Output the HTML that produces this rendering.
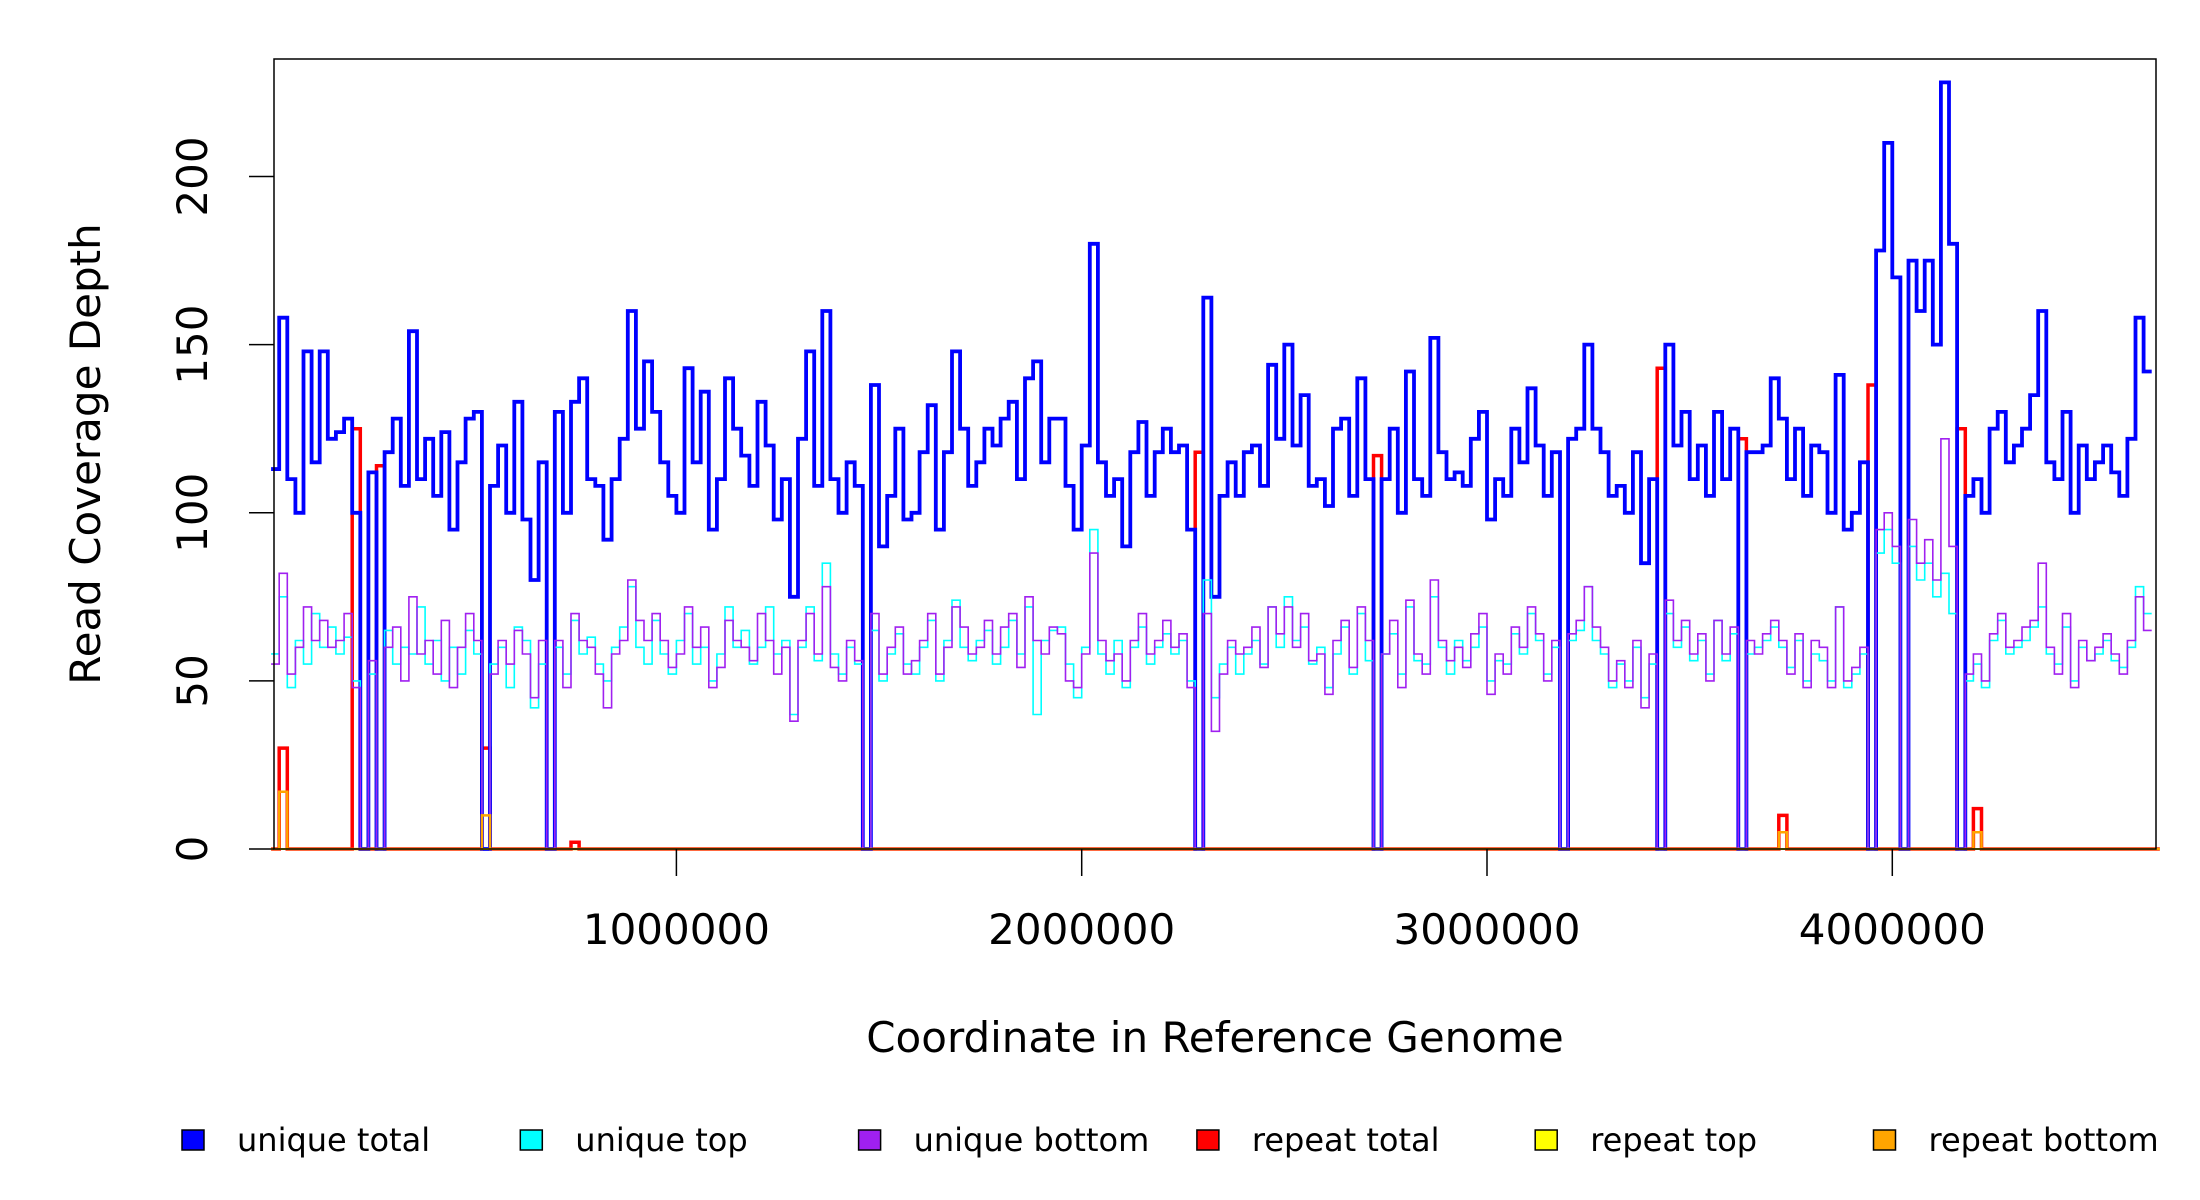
<!DOCTYPE html>
<html><head><meta charset="utf-8"><style>
body{margin:0;background:#fff;}
svg{display:block;font-family:"DejaVu Sans","Liberation Sans",sans-serif;}
</style></head><body>
<svg id="chart" width="2200" height="1200" viewBox="0 0 2200 1200">
<rect x="0" y="0" width="2200" height="1200" fill="#fff"/>
<g id="series"></g>
<g id="axes"></g>
<rect x="274" y="59" width="1882" height="790" fill="none" stroke="#000" stroke-width="1.5"/>
<text x="1215" y="1052" font-size="42" text-anchor="middle">Coordinate in Reference Genome</text>
<text transform="translate(100,454) rotate(-90)" font-size="42" text-anchor="middle">Read Coverage Depth</text>
<g id="legend"></g>
</svg>
<script>
const binSize = 20000;
const uniqueTotal = [113,158,110,100,148,115,148,122,124,128,100,0,112,0,118,128,108,154,110,122,105,124,95,115,128,130,0,108,120,100,133,98,80,115,0,130,100,133,140,110,108,92,110,122,160,125,145,130,115,105,100,143,115,136,95,110,140,125,117,108,133,120,98,110,75,122,148,108,160,110,100,115,108,0,138,90,105,125,98,100,118,132,95,118,148,125,108,115,125,120,128,133,110,140,145,115,128,128,108,95,120,180,115,105,110,90,118,127,105,118,125,118,120,95,0,164,75,105,115,105,118,120,108,144,122,150,120,135,108,110,102,125,128,105,140,110,0,110,125,100,142,110,105,152,118,110,112,108,122,130,98,110,105,125,115,137,120,105,118,0,122,125,150,125,118,105,108,100,118,85,110,0,150,120,130,110,120,105,130,110,125,0,118,118,120,140,128,110,125,105,120,118,100,141,95,100,115,0,178,210,170,0,175,160,175,150,228,180,0,105,110,100,125,130,115,120,125,135,160,115,110,130,100,120,110,115,120,112,105,122,158,142];
const uniqueTop = [58,75,48,62,55,70,60,66,58,63,50,0,52,0,65,55,60,58,72,55,62,50,60,52,65,58,0,55,60,48,66,62,42,55,0,60,52,68,58,63,55,50,60,66,78,60,55,68,58,52,62,70,55,60,50,58,72,60,65,55,60,72,58,62,40,60,72,56,85,58,52,60,55,0,65,50,58,64,55,52,60,68,50,62,74,60,56,62,65,55,60,68,58,72,40,62,65,66,55,45,60,95,58,52,62,48,60,66,55,60,64,58,62,50,0,80,45,55,60,52,58,62,55,72,60,75,62,66,55,60,48,58,66,52,70,56,0,58,64,52,72,56,55,75,60,52,62,56,60,66,50,56,55,64,58,70,62,52,60,0,62,65,78,62,58,48,55,50,60,45,55,0,70,60,66,56,62,52,68,56,64,0,58,60,62,66,60,54,62,50,58,56,50,72,48,52,58,0,88,95,85,0,90,80,85,75,82,70,0,50,55,48,62,68,58,60,62,66,72,58,55,66,50,60,56,58,62,56,54,60,78,70];
const uniqueBottom = [55,82,52,60,72,62,68,60,62,70,48,0,56,0,60,66,50,75,58,62,52,68,48,60,70,62,0,52,62,55,65,58,45,62,0,62,48,70,62,60,52,42,58,62,80,68,62,70,62,54,58,72,60,66,48,54,68,62,60,56,70,62,52,60,38,62,70,58,78,54,50,62,56,0,70,52,60,66,52,56,62,70,52,60,72,66,58,60,68,58,66,70,54,75,62,58,66,64,50,48,58,88,62,56,58,50,62,70,58,62,68,60,64,48,0,70,35,52,62,58,60,66,54,72,64,72,60,70,56,58,46,62,68,54,72,62,0,58,68,48,74,58,52,80,62,56,60,54,64,70,46,58,52,66,60,72,64,50,62,0,64,68,78,66,60,50,56,48,62,42,58,0,74,62,68,58,64,50,68,58,66,0,62,58,64,68,62,52,64,48,62,60,48,72,50,54,60,0,95,100,90,0,98,85,92,80,122,90,0,52,58,50,64,70,60,62,66,68,85,60,52,70,48,62,56,60,64,58,52,62,75,65];
const repeatTotal = [0,30,0,0,0,0,0,0,0,0,125,0,0,114,0,0,0,0,0,0,0,0,0,0,0,0,30,0,0,0,0,0,0,0,0,0,0,2,0,0,0,0,0,0,0,0,0,0,0,0,0,0,0,0,0,0,0,0,0,0,0,0,0,0,0,0,0,0,0,0,0,0,0,0,0,0,0,0,0,0,0,0,0,0,0,0,0,0,0,0,0,0,0,0,0,0,0,0,0,0,0,0,0,0,0,0,0,0,0,0,0,0,0,0,118,0,0,0,0,0,0,0,0,0,0,0,0,0,0,0,0,0,0,0,0,0,117,0,0,0,0,0,0,0,0,0,0,0,0,0,0,0,0,0,0,0,0,0,0,0,0,0,0,0,0,0,0,0,0,0,0,143,0,0,0,0,0,0,0,0,0,122,0,0,0,0,10,0,0,0,0,0,0,0,0,0,0,138,0,0,0,0,0,0,0,0,0,0,125,0,12,0,0,0,0,0,0,0,0,0,0,0,0,0,0,0,0,0,0,0,0,0,0];
const repeatTop = repeatTotal.map(() => 0);
const repeatBottom = repeatTotal.map((v, i) => (i===1?17:i===26?10:i===186?5:i===210?5:0));
const yTicks = [0,50,100,150,200];
const xTicks = [1000000,2000000,3000000,4000000];
const legendLabels = ["unique total","unique top","unique bottom","repeat total","repeat top","repeat bottom"];
const legendColors = ["#0000ff","#00ffff","#a020f0","#ff0000","#ffff00","#ffa500"];

const NS = "http://www.w3.org/2000/svg";
const X0 = 271.1, XPX = 405.3e-6, Y0 = 849, YPX = (849-176.5)/200;
const xs = v => X0 + v * XPX;
const ys = v => Y0 - v * YPX;
function stepPath(arr){
  let d = "M" + xs(0) + "," + ys(arr[0]);
  for (let i = 0; i < arr.length; i++){
    d += " H" + xs((i+1)*binSize).toFixed(1);
    if (i+1 < arr.length) d += " V" + ys(arr[i+1]).toFixed(1);
  }
  return d;
}
const sg = document.getElementById("series");
const seriesList = [[repeatTotal,"#ff0000",3.5,"repeat-total-line"],[uniqueTotal,"#0000ff",3.8,"unique-total-line"],[uniqueTop,"#00ffff",1.6,"unique-top-line"],[uniqueBottom,"#a020f0",1.6,"unique-bottom-line"],[repeatTop,"#ffff00",2,"repeat-top-line"],[repeatBottom,"#ffa500",2.5,"repeat-bottom-line"]];
seriesList.forEach(s => {
  const p = document.createElementNS(NS,"path");
  p.setAttribute("d", stepPath(s[0]));
  p.setAttribute("fill","none");
  p.setAttribute("stroke", s[1]);
  p.setAttribute("stroke-width", s[2]);
  
  
  sg.appendChild(p);
});
const ag = document.getElementById("axes");
yTicks.forEach(t => {
  const l = document.createElementNS(NS,"line");
  l.setAttribute("x1",249); l.setAttribute("x2",274);
  l.setAttribute("y1",ys(t)); l.setAttribute("y2",ys(t));
  l.setAttribute("stroke","#000"); l.setAttribute("stroke-width",1.5);
  
  
  ag.appendChild(l);
  const tx = document.createElementNS(NS,"text");
  tx.setAttribute("transform","translate(207,"+ys(t)+") rotate(-90)");
  tx.setAttribute("text-anchor","middle"); tx.setAttribute("font-size","42");
  tx.textContent = t;
  
  
  ag.appendChild(tx);
});
xTicks.forEach(t => {
  const l = document.createElementNS(NS,"line");
  l.setAttribute("x1",xs(t)); l.setAttribute("x2",xs(t));
  l.setAttribute("y1",849); l.setAttribute("y2",876);
  l.setAttribute("stroke","#000"); l.setAttribute("stroke-width",1.5);
  
  
  ag.appendChild(l);
  const tx = document.createElementNS(NS,"text");
  tx.setAttribute("x",xs(t)); tx.setAttribute("y",944);
  tx.setAttribute("text-anchor","middle"); tx.setAttribute("font-size","42");
  tx.textContent = t;
  
  
  ag.appendChild(tx);
});
const lg = document.getElementById("legend");
legendLabels.forEach((lab,i) => {
  const bx = 182 + i*338.3;
  const r = document.createElementNS(NS,"rect");
  r.setAttribute("x",bx); r.setAttribute("y",1130);
  r.setAttribute("width",22); r.setAttribute("height",20);
  r.setAttribute("fill",legendColors[i]); r.setAttribute("stroke","#000"); r.setAttribute("stroke-width",1.5);
  
  
  lg.appendChild(r);
  const tx = document.createElementNS(NS,"text");
  tx.setAttribute("x",bx+55); tx.setAttribute("y",1151);
  tx.setAttribute("font-size","32");
  tx.textContent = lab;
  
  
  lg.appendChild(tx);
});
</script>
</body></html>
